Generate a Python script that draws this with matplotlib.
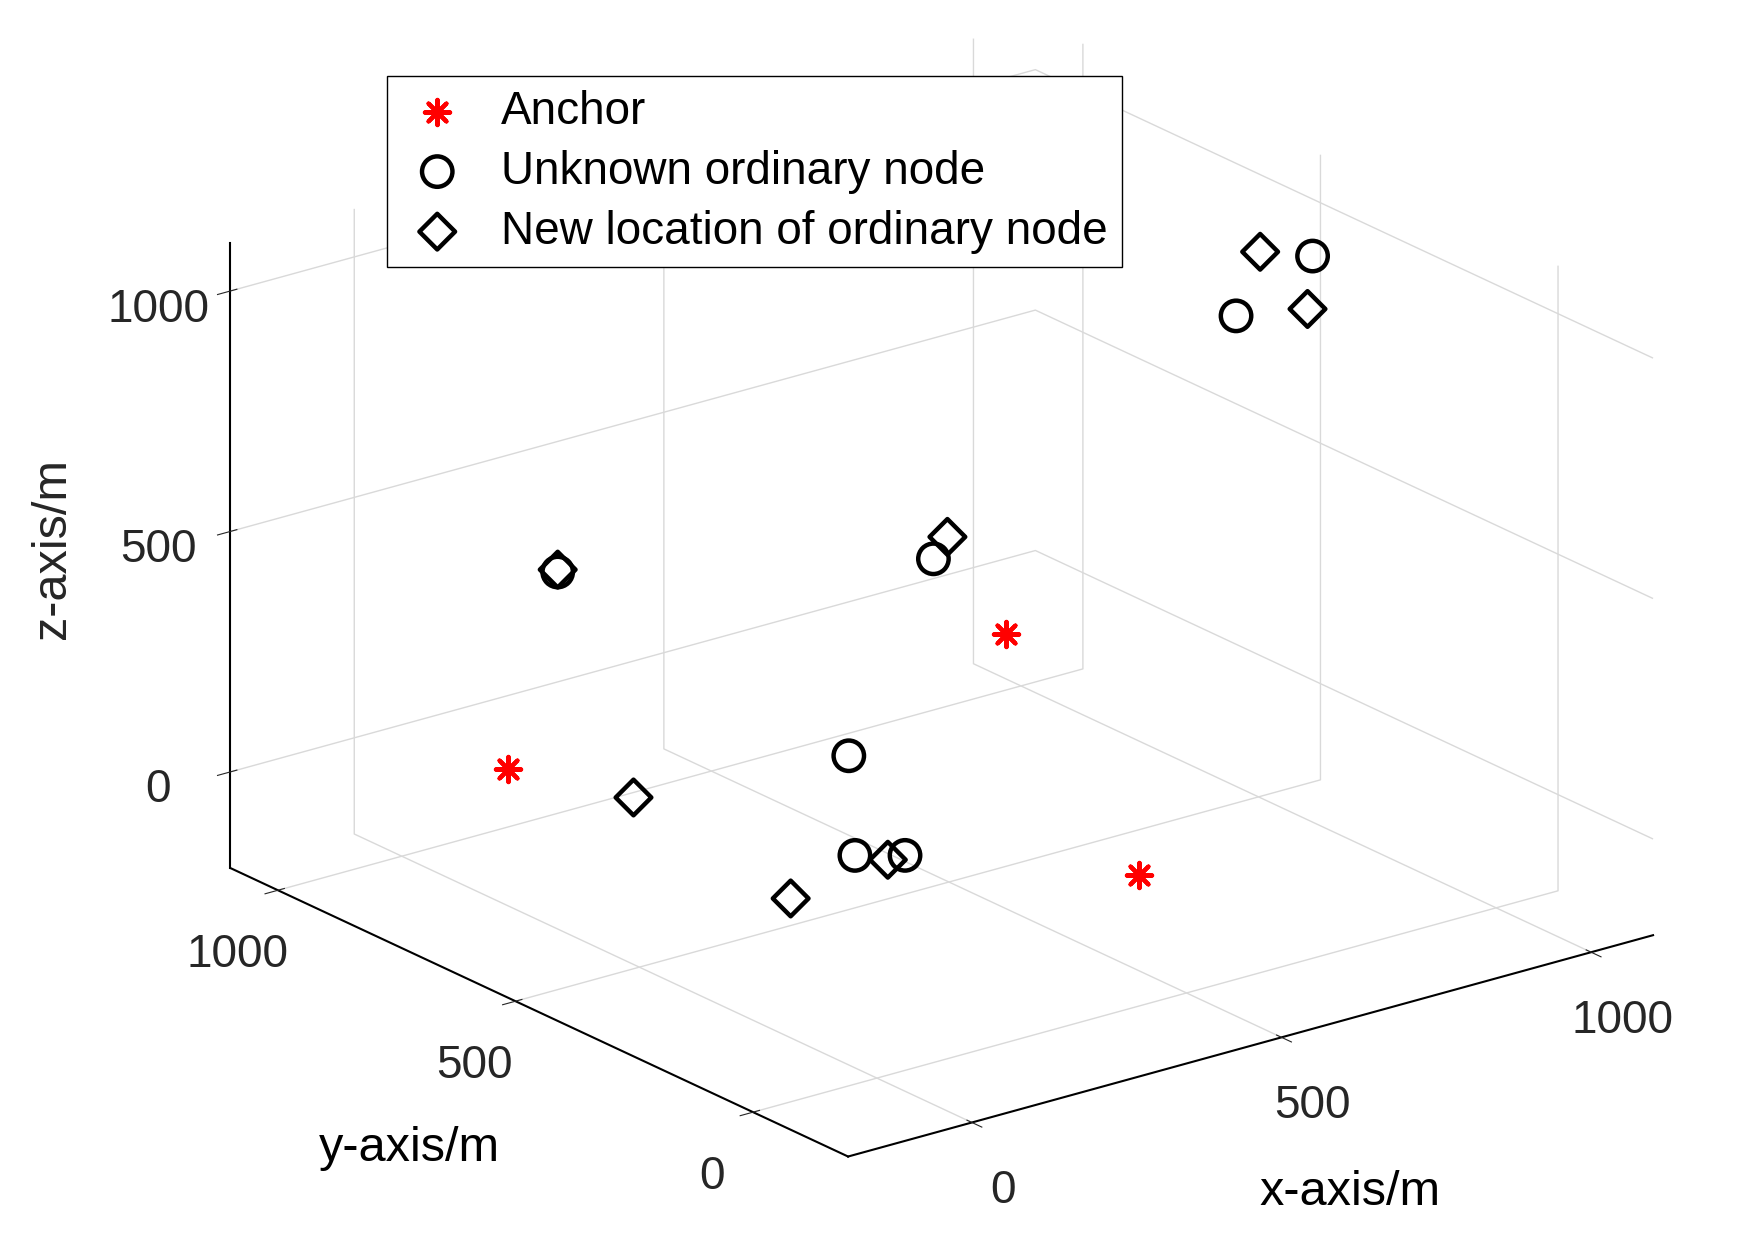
import matplotlib
matplotlib.use("Agg")
import matplotlib.pyplot as plt

anchor_x = [18, 745, 500]
anchor_y = [800, 700, 100]
anchor_z = [67, 137, 0]

node_x = [768, 976, 455, 359, 253, 304, 149]
node_y = [245, 355, 474, 527, 376, 337, 866]
node_z = [1000, 1000, 500, 100, 0, 0, 400]

new_x = [932, 908, 496, 277, 94, 154, 149]
new_y = [408, 277, 498, 338, 304, 713, 866]
new_z = [1000, 950, 520, 0, 0, 0, 405]

ticks = [0, 500, 1000]

plt.rcParams['font.family'] = ['Liberation Sans', 'DejaVu Sans']
fig = plt.figure(figsize=(17.58, 12.6), dpi=100)
ax = fig.add_axes([0.026, 0.019, 1.0, 1.0], projection='3d', proj_type='ortho')
ax.view_init(elev=21, azim=-127.5)
ax.set_box_aspect((1, 1, 0.66), zoom=1.22)

ax.scatter(anchor_x, anchor_y, anchor_z, marker=(8, 2, 0), s=330, c='red', linewidths=3, label='Anchor', depthshade=False)
ax.scatter(node_x, node_y, node_z, marker='o', s=480, facecolors='none', edgecolors='black', linewidths=3.2, label='Unknown ordinary node', depthshade=False)
ax.scatter(new_x, new_y, new_z, marker='D', s=330, facecolors='none', edgecolors='black', linewidths=3.2, label='New location of ordinary node', depthshade=False)

for a in (ax.xaxis, ax.yaxis, ax.zaxis):
    a.set_pane_color((1, 1, 1, 0))
    a._axinfo['grid']['color'] = (0.85, 0.85, 0.85, 1)
    a._axinfo['grid']['linewidth'] = 1.0
    a.line.set_color('black')
    a.line.set_linewidth(1.5)
ax.set_xlim(-200, 1100)
ax.set_ylim(-200, 1100)
ax.set_zlim(-200, 1100)
ax.set_xticks(ticks); ax.set_yticks(ticks); ax.set_zticks(ticks)
ax.tick_params(labelsize=33, colors='#262626')
ax.tick_params(axis='z', pad=16)
ax.tick_params(axis='x', pad=16)
ax.tick_params(axis='y', pad=16)
ax.set_xlabel('x-axis/m', fontsize=35, labelpad=55, rotation=0)
ax.set_ylabel('y-axis/m', fontsize=35, labelpad=55, rotation=0)
ax.xaxis.set_rotate_label(False); ax.yaxis.set_rotate_label(False); ax.zaxis.set_rotate_label(False)
ax.set_zlabel('')
fig.text(0.03, 0.565, 'z-axis/m', fontsize=35, rotation=90, ha='center', va='center', color='#262626')
fig.legend(loc='upper left', bbox_to_anchor=(0.207, 0.958), fontsize=33, fancybox=False, edgecolor='black', framealpha=1,
           borderpad=0.3, labelspacing=0.35, handletextpad=0.6, handlelength=1.6)
fig.savefig('out.png')
